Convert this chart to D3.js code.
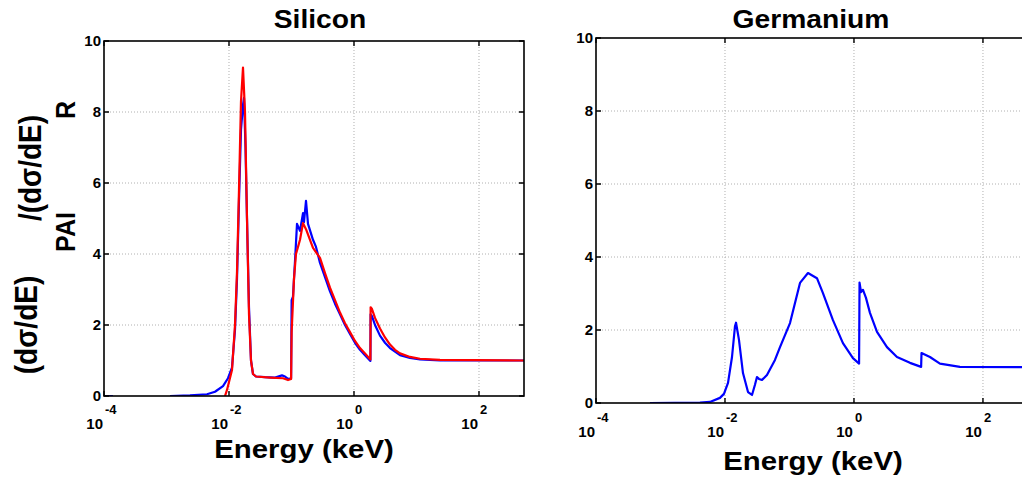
<!DOCTYPE html>
<html>
<head>
<meta charset="utf-8">
<script src="https://cdn.jsdelivr.net/npm/d3@7"></script>
<style>
body { margin: 0; background: #fff; }
text { font-family: "Liberation Sans", Arial, sans-serif; font-weight: bold; fill: #000; }
</style>
</head>
<body>
<svg id="fig" width="1022" height="480"></svg>
<script>
// energies in keV, values are the ratio
const siBlueE = [0.0001, 0.000139, 0.00015, 0.001138, 0.002377, 0.004446, 0.00597, 0.008017, 0.009638, 0.01117, 0.01247, 0.01343, 0.01445, 0.01556, 0.01675, 0.01738, 0.01837, 0.01941, 0.02089, 0.02249, 0.02421, 0.02704, 0.03767, 0.05445, 0.07047, 0.0787, 0.0879, 0.0985, 0.1005, 0.1057, 0.1138, 0.1225, 0.1368, 0.1528, 0.1585, 0.1706, 0.1837, 0.2208, 0.2466, 0.2858, 0.3436, 0.413, 0.4966, 0.597, 0.7178, 0.863, 1.037, 1.247, 1.5, 1.738, 1.83, 1.845, 1.941, 2.168, 2.606, 3.133, 3.767, 4.529, 5.445, 7.87, 11.38, 23.77, 525];
const siBlueV = [0, 0, null, 0, 0.02, 0.05, 0.12, 0.28, 0.5, 0.8, 1.86, 3.3, 5.5, 7.5, 8.2, 8.4, 7.0, 5.0, 2.5, 1.0, 0.62, 0.55, 0.53, 0.52, 0.58, 0.55, 0.48, 0.5, 2.7, 2.8, 3.8, 4.85, 4.65, 5.15, 4.9, 5.5, 4.85, 4.4, 4.2, 3.75, 3.35, 2.95, 2.6, 2.3, 2.0, 1.75, 1.5, 1.3, 1.15, 1.03, 0.99, 2.3, 2.25, 2.0, 1.7, 1.5, 1.35, 1.25, 1.15, 1.07, 1.03, 1.0, 1.0];

const siRedE = [0.00863, 0.00929, 0.01117, 0.01247, 0.01343, 0.01445, 0.01556, 0.01675, 0.01803, 0.01941, 0.02089, 0.02249, 0.02421, 0.02704, 0.04529, 0.07311, 0.0879, 0.0985, 0.1005, 0.1096, 0.118, 0.1271, 0.1368, 0.1528, 0.1706, 0.1977, 0.2208, 0.2858, 0.3436, 0.413, 0.4966, 0.597, 0.7178, 0.863, 1.037, 1.247, 1.5, 1.738, 1.83, 1.845, 1.941, 2.168, 2.606, 3.133, 3.767, 4.529, 5.445, 7.87, 11.38, 23.77, 525];
const siRedV = [0, 0.17, 0.73, 2.0, 3.5, 5.8, 8.3, 9.25, 8.0, 5.0, 2.3, 1.0, 0.62, 0.55, 0.52, 0.5, 0.45, 0.48, 1.8, 3.3, 4.0, 4.2, 4.4, 4.87, 4.7, 4.4, 4.17, 3.89, 3.46, 3.05, 2.7, 2.35, 2.05, 1.8, 1.55, 1.35, 1.2, 1.07, 1.03, 2.5, 2.45, 2.2, 1.9, 1.65, 1.45, 1.3, 1.2, 1.1, 1.05, 1.02, 1.0];

const geE = [0.000687, 0.00409, 0.005844, 0.008356, 0.009638, 0.01114, 0.01285, 0.01429, 0.01483, 0.01648, 0.01901, 0.02275, 0.02624, 0.02917, 0.03133, 0.03365, 0.0375, 0.04477, 0.05957, 0.07129, 0.1019, 0.1456, 0.1936, 0.2667, 0.3304, 0.4721, 0.6745, 0.9638, 1.2, 1.22, 1.285, 1.38, 1.535, 1.77, 2.275, 3.251, 4.645, 7.379, 11.0, 11.15, 15.07, 21.53, 43.95, 525];
const geV = [0, 0.01, 0.03, 0.14, 0.25, 0.55, 1.26, 2.1, 2.2, 1.73, 0.82, 0.3, 0.22, 0.5, 0.71, 0.66, 0.63, 0.77, 1.18, 1.53, 2.19, 3.29, 3.56, 3.42, 3.01, 2.27, 1.64, 1.23, 1.08, 3.3, 3.04, 3.1, 2.88, 2.47, 1.95, 1.53, 1.26, 1.1, 0.99, 1.37, 1.26, 1.08, 0.99, 0.98];

const xTicks = [1e-4, 1e-2, 1, 100];
const xTickExp = ["-4", "-2", "0", "2"];
const yTicks = [0, 2, 4, 6, 8, 10];

const svg = d3.select('#fig');

function panel(p) {
  const x = d3.scaleLog().domain([1e-4, 525]).range([p.left, p.left + p.w]);
  const y = d3.scaleLinear().domain([0, 10]).range([p.top + p.h, p.top]);
  const g = svg.append('g');
  const bottom = p.top + p.h, right = p.left + p.w;

  // dotted grid
  g.selectAll('.gx').data(xTicks.slice(1)).enter().append('line')
    .attr('x1', d => x(d)).attr('x2', d => x(d))
    .attr('y1', p.top).attr('y2', bottom)
    .attr('stroke', '#b0b0b0').attr('stroke-dasharray', '1,2');
  g.selectAll('.gy').data(yTicks.slice(1, -1)).enter().append('line')
    .attr('x1', p.left).attr('x2', right)
    .attr('y1', d => y(d)).attr('y2', d => y(d))
    .attr('stroke', '#b0b0b0').attr('stroke-dasharray', '1,2');

  // curves
  const clipId = 'clip' + p.id;
  svg.append('clipPath').attr('id', clipId).append('rect')
    .attr('x', p.left).attr('y', p.top - 2).attr('width', p.w).attr('height', p.h + 2);
  const line = d3.line()
    .defined(d => d[1] != null)
    .x(d => x(d[0])).y(d => y(d[1]));
  p.series.forEach(s => {
    g.append('path')
      .datum(d3.zip(s.e, s.v))
      .attr('clip-path', `url(#${clipId})`)
      .attr('fill', 'none').attr('stroke', s.color)
      .attr('stroke-width', 2.2).attr('stroke-linejoin', 'round')
      .attr('d', line);
  });

  // frame and inward ticks
  g.append('rect').attr('x', p.left).attr('y', p.top).attr('width', p.w).attr('height', p.h)
    .attr('fill', 'none').attr('stroke', '#000').attr('stroke-width', 1.6);
  g.selectAll('.tb').data(xTicks).enter().append('path')
    .attr('d', d => `M${x(d)},${bottom}v-5M${x(d)},${p.top}v5`)
    .attr('stroke', '#000').attr('stroke-width', 1.4);
  g.selectAll('.tl').data(yTicks).enter().append('path')
    .attr('d', d => `M${p.left},${y(d)}h5M${right},${y(d)}h-5`)
    .attr('stroke', '#000').attr('stroke-width', 1.4);

  // tick labels
  g.selectAll('.yl').data(yTicks).enter().append('text')
    .attr('x', p.left - 3).attr('y', d => y(d)).attr('dy', '0.36em')
    .attr('text-anchor', 'end').style('font-size', '15px')
    .text(d => d);
  xTicks.forEach((t, i) => {
    g.append('text').attr('x', x(t) - 1).attr('y', bottom + p.baseOff)
      .attr('text-anchor', 'end').style('font-size', '15px').text('10');
    g.append('text').attr('x', x(t) + 1).attr('y', bottom + p.expOff)
      .attr('text-anchor', 'start').style('font-size', '13px').text(xTickExp[i]);
  });

  // title and x label
  g.append('text').attr('transform', `translate(${p.titleX},${p.titleY}) scale(1.13,1)`)
    .attr('text-anchor', 'middle').style('font-size', '25px').text(p.title);
  g.append('text').attr('transform', `translate(${p.labelX},${p.labelY}) scale(1.13,1)`)
    .attr('text-anchor', 'middle').style('font-size', '26px').text('Energy (keV)');
}

panel({
  id: 'si', left: 104, top: 41, w: 420, h: 355, title: 'Silicon',
  titleX: 320, titleY: 28, labelX: 304, labelY: 458, baseOff: 33, expOff: 18,
  series: [
    { e: siBlueE, v: siBlueV, color: '#0000ff' },
    { e: siRedE, v: siRedV, color: '#ff0000' }
  ]
});
panel({
  id: 'ge', left: 596, top: 38, w: 433.4, h: 365, title: 'Germanium',
  titleX: 811, titleY: 28, labelX: 813, labelY: 470, baseOff: 34, expOff: 19,
  series: [
    { e: geE, v: geV, color: '#0000ff' }
  ]
});

// y-axis label of the left panel: (dσ/dE)_PAI / (dσ/dE)_R
const yLab = [
  { t: '(dσ/dE)', x: 26, y: 325, s: 28 },
  { t: 'PAI', x: 65, y: 232, s: 25 },
  { t: '/(dσ/dE)', x: 30, y: 168, s: 28 },
  { t: 'R', x: 65, y: 110, s: 25 }
];
svg.selectAll('.ylab').data(yLab).enter().append('text')
  .attr('transform', d => `translate(${d.x},${d.y}) scale(1.12,1) rotate(-90)`)
  .attr('text-anchor', 'middle').attr('dy', '0.35em')
  .style('font-size', d => d.s + 'px')
  .text(d => d.t);
</script>
</body>
</html>
